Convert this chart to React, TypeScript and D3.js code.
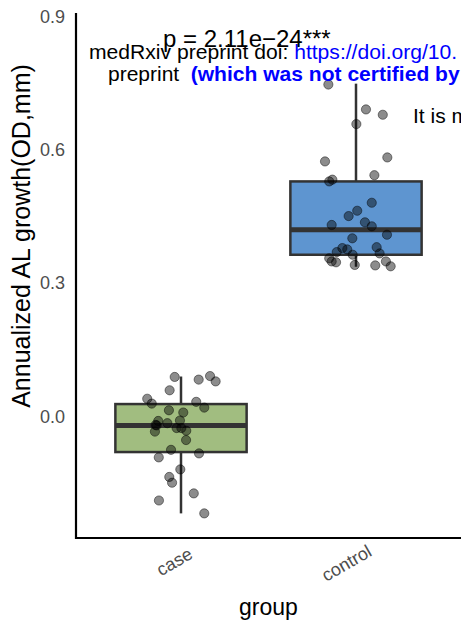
import React from "react";
import * as d3 from "d3";

const groups = ["case", "control"];
const fills = ["#A1BD80", "#5E95D0"];

// box stats: [lower whisker, q1, median, q3, upper whisker]
const caseStats = [-0.218, -0.08, -0.02, 0.028, 0.09];
const controlStats = [0.337, 0.364, 0.42, 0.529, 0.749];

// jittered points: values and horizontal jitter (in category units)
const caseValues = [0.089, 0.083, 0.091, 0.079, 0.059, 0.04, 0.029, 0.033, 0.02, 0.014, 0.009, -0.01, -0.009, -0.019, -0.015, -0.034, -0.026, -0.026, -0.032, -0.053, -0.075, -0.083, -0.092, -0.119, -0.136, -0.149, -0.173, -0.189, -0.218, -0.02];
const caseJitter = [-0.036, 0.101, 0.166, 0.198, -0.065, -0.193, -0.167, 0.087, 0.133, -0.069, 0.013, -0.13, -0.006, -0.145, -0.078, -0.149, -0.025, 0.002, 0.03, 0.029, -0.057, 0.103, -0.127, -0.004, -0.067, -0.051, 0.073, -0.126, 0.133, -0.139];
const controlValues = [0.747, 0.691, 0.679, 0.658, 0.574, 0.583, 0.543, 0.533, 0.529, 0.481, 0.463, 0.451, 0.431, 0.437, 0.428, 0.409, 0.401, 0.379, 0.376, 0.37, 0.364, 0.381, 0.367, 0.356, 0.349, 0.347, 0.341, 0.34, 0.349, 0.338];
const controlJitter = [-0.158, 0.057, 0.153, 0.002, -0.177, 0.179, 0.105, -0.135, -0.153, 0.09, 0.007, -0.042, -0.139, 0.051, 0.09, 0.177, -0.021, -0.078, -0.05, -0.11, -0.019, 0.118, 0.135, -0.153, -0.139, -0.114, -0.007, 0.11, 0.171, 0.198];

const yTicks = [0.0, 0.3, 0.6, 0.9];
const yDomain = [-0.2734, 0.908];

const pLabel = "p = 2.11e\u221224***";
const yTitle = "Annualized AL growth(OD,mm)";
const xTitle = "group";

const FONT = "'Liberation Sans', Arial, Helvetica, sans-serif";

function measure(text: string, size: number) {
  const c = document.createElement("canvas").getContext("2d");
  if (!c) return text.length * size * 0.5;
  c.font = `${size}px ${FONT}`;
  return c.measureText(text).width;
}

export default function App() {
  const W = 461, H = 628;
  const left = 76, right = 461, top = 13, bottom = 538;
  const x = d3.scalePoint<string>().domain(groups).range([left, right]).padding(0.6);
  const step = x.step();
  const y = d3.scaleLinear().domain(yDomain).range([bottom, top]);
  const boxW = step * 0.75;

  const stats = [caseStats, controlStats];
  const vals = [caseValues, controlValues];
  const jit = [caseJitter, controlJitter];

  const tickSize = 18;

  return (
    <svg width={W} height={H} style={{ position: "absolute", left: 0, top: 0, fontFamily: FONT }}>
      <rect width={W} height={H} fill="white" />
      {groups.map((g, i) => {
        const cx = x(g) as number;
        const [lo, q1, med, q3, hi] = stats[i];
        return (
          <g key={g}>
            <line x1={cx} x2={cx} y1={y(hi)} y2={y(q3)} stroke="#333" strokeWidth={2.5} />
            <line x1={cx} x2={cx} y1={y(q1)} y2={y(lo)} stroke="#333" strokeWidth={2.5} />
            <rect x={cx - boxW / 2} y={y(q3)} width={boxW} height={y(q1) - y(q3)} fill={fills[i]} stroke="#333" strokeWidth={2.5} />
            <line x1={cx - boxW / 2} x2={cx + boxW / 2} y1={y(med)} y2={y(med)} stroke="#333" strokeWidth={5} />
          </g>
        );
      })}
      {groups.map((g, i) => (
        <g key={g + "pts"}>
          {vals[i].map((v, j) => (
            <circle key={j} cx={(x(g) as number) + jit[i][j] * step} cy={y(v)} r={4.6}
              fill="rgba(0,0,0,0.45)" stroke="rgba(0,0,0,0.45)" strokeWidth={1} />
          ))}
        </g>
      ))}
      {/* axes */}
      <line x1={left} x2={left} y1={top} y2={bottom + 1} stroke="black" strokeWidth={2.2} />
      <line x1={left - 1} x2={right} y1={bottom} y2={bottom} stroke="black" strokeWidth={2.2} />
      {yTicks.map((t) => (
        <text key={t} x={65} y={y(t)} textAnchor="end" dominantBaseline="central" fontSize={tickSize} fill="#4D4D4D">
          {d3.format(".1f")(t)}
        </text>
      ))}
      {groups.map((g) => {
        const cx = x(g) as number;
        const L = measure(g, tickSize);
        return (
          <text key={g} transform={`translate(${cx},558) rotate(-30)`} x={-0.2 * L} textAnchor="middle"
            dominantBaseline="central" fontSize={tickSize} fill="#4D4D4D">
            {g}
          </text>
        );
      })}
      <text x={(left + right) / 2} y={615} textAnchor="middle" fontSize={23} fill="black">{xTitle}</text>
      <text transform={`translate(30,236) rotate(-90)`} textAnchor="middle" fontSize={25} fill="black">{yTitle}</text>
      {/* annotations */}
      <text x={163} y={47} fontSize={24} fill="black">{pLabel}</text>
      <text x={89} y={59} fontSize={21.1} fill="black">
        medRxiv preprint doi: <tspan fill="#0000FF">https://doi.org/10.</tspan>
      </text>
      <text x={108} y={81} fontSize={21} fill="black">preprint</text>
      <text x={190.7} y={81} fontSize={21} fill="#0000FF" fontWeight="bold" textLength={269} lengthAdjust="spacingAndGlyphs">
        (which was not certified by
      </text>
      <text x={413} y={123} fontSize={21} fill="black">It is m</text>
    </svg>
  );
}
